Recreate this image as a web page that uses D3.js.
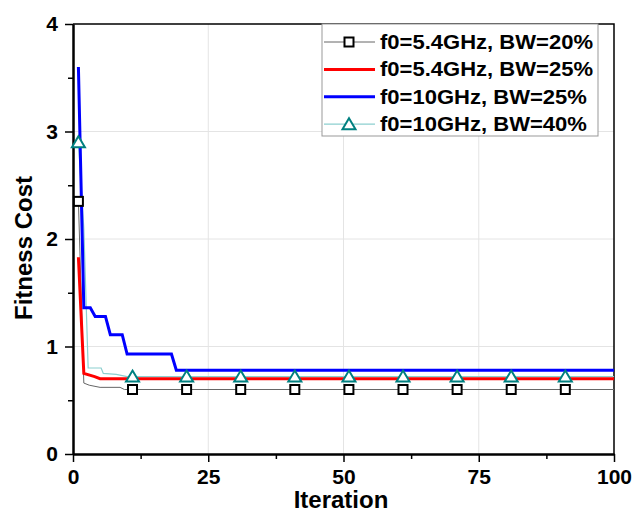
<!DOCTYPE html>
<html>
<head>
<meta charset="utf-8">
<script src="https://cdn.jsdelivr.net/npm/d3@7"></script>
<style>
  body { margin: 0; background: #fff; }
  svg text { font-family: "Liberation Sans", Arial, sans-serif; font-weight: bold; }
</style>
</head>
<body>
<div id="chart"></div>
<script>
// Series breakpoints (iteration, fitness cost)
const bw20_54 = [[1, 2.35], [2, 0.66], [3, 0.64], [5, 0.62], [8.7, 0.62], [9.5, 0.6], [100, 0.6]];
const bw25_54 = [[1, 1.83], [2, 0.75], [4, 0.72], [5, 0.70], [100, 0.70]];
const bw25_10 = [[1, 3.6], [2, 1.36], [3.2, 1.36], [4.1, 1.28], [6, 1.28], [6.9, 1.11], [9.1, 1.11], [10, 0.93],
                 [18.2, 0.93], [19.1, 0.78], [100, 0.78]];
const bw40_10 = [[1, 2.9], [2, 2.1], [2.8, 0.8], [5.2, 0.8], [5.6, 0.75], [8, 0.74], [10, 0.72], [100, 0.72]];

// Marker positions
const markerIters = [1, 11, 21, 31, 41, 51, 61, 71, 81, 91];
const squareVals = [2.35, 0.6, 0.6, 0.6, 0.6, 0.6, 0.6, 0.6, 0.6, 0.6];
const triangleVals = [2.9, 0.72, 0.72, 0.72, 0.72, 0.72, 0.72, 0.72, 0.72, 0.72];

const legendLabels = ["f0=5.4GHz, BW=20%", "f0=5.4GHz, BW=25%", "f0=10GHz, BW=25%", "f0=10GHz, BW=40%"];
const xTicks = [0, 25, 50, 75, 100];
const xMinor = [12.5, 37.5, 62.5, 87.5];
const yTicks = [0, 1, 2, 3, 4];
const yMinor = [0.5, 1.5, 2.5, 3.5];

(function() {
  const W = 635, H = 512;
  const pl = 73, pr = 614, pt = 24, pb = 454;

  const svg = d3.select("#chart").append("svg")
    .attr("width", W).attr("height", H);

  const x = d3.scaleLinear().domain([0, 100]).range([pl, pr]);
  const y = d3.scaleLinear().domain([0, 4]).range([pb, pt]);

  // grid
  svg.append("g").selectAll("line")
    .data(xTicks.slice(1, -1)).join("line")
    .attr("x1", d => x(d)).attr("x2", d => x(d))
    .attr("y1", pt).attr("y2", pb)
    .attr("stroke", "#e4e4e4").attr("stroke-width", 1);
  svg.append("g").selectAll("line")
    .data(yTicks.slice(1, -1)).join("line")
    .attr("x1", pl).attr("x2", pr)
    .attr("y1", d => y(d)).attr("y2", d => y(d))
    .attr("stroke", "#e4e4e4").attr("stroke-width", 1);

  // frame top / right
  svg.append("path")
    .attr("d", `M${pl},${pt}H${pr}V${pb}`)
    .attr("fill", "none").attr("stroke", "#000").attr("stroke-width", 1.5);

  // axes
  const xAxisG = svg.append("g").attr("transform", `translate(0,${pb})`);
  xAxisG.call(d3.axisBottom(x).tickValues(xTicks).tickFormat(d3.format("d"))
    .tickSize(8).tickPadding(7).tickSizeOuter(0));
  xAxisG.append("g").call(d3.axisBottom(x).tickValues(xMinor).tickSize(5).tickFormat("").tickSizeOuter(0));

  const yAxisG = svg.append("g").attr("transform", `translate(${pl},0)`);
  yAxisG.call(d3.axisLeft(y).tickValues(yTicks).tickFormat(d3.format("d"))
    .tickSize(8).tickPadding(7).tickSizeOuter(0));
  yAxisG.append("g").call(d3.axisLeft(y).tickValues(yMinor).tickSize(5).tickFormat("").tickSizeOuter(0));

  svg.selectAll(".domain").attr("stroke", "#000").attr("stroke-width", 2);
  svg.selectAll(".tick line").attr("stroke", "#000").attr("stroke-width", 1.5);
  svg.selectAll(".tick text").attr("font-size", 21).attr("fill", "#000")
    .style("font-family", "'Liberation Sans', Arial, sans-serif").style("font-weight", "bold");

  // axis titles
  svg.append("text")
    .attr("transform", "translate(32,248) rotate(-90)")
    .attr("text-anchor", "middle").attr("font-size", 24).text("Fitness Cost");
  svg.append("text")
    .attr("x", 341).attr("y", 508)
    .attr("text-anchor", "middle").attr("font-size", 24).text("Iteration");

  // lines
  const line = d3.line().x(d => x(d[0])).y(d => y(d[1]));
  svg.append("path").datum(bw20_54).attr("d", line)
    .attr("fill", "none").attr("stroke", "#666").attr("stroke-width", 1);
  svg.append("path").datum(bw40_10).attr("d", line)
    .attr("fill", "none").attr("stroke", "#8ccfcf").attr("stroke-width", 1.2);
  svg.append("path").datum(bw25_54).attr("d", line)
    .attr("fill", "none").attr("stroke", "#ff0000").attr("stroke-width", 3);
  svg.append("path").datum(bw25_10).attr("d", line)
    .attr("fill", "none").attr("stroke", "#0000ff").attr("stroke-width", 3);

  // markers
  const sq = 9;
  const triPath = "M0,-6L6.5,5L-6.5,5Z";
  svg.append("g").selectAll("rect")
    .data(markerIters.map((it, i) => [it, squareVals[i]])).join("rect")
    .attr("x", d => x(d[0]) - sq / 2).attr("y", d => y(d[1]) - sq / 2)
    .attr("width", sq).attr("height", sq)
    .attr("fill", "#fff").attr("stroke", "#000").attr("stroke-width", 2);
  svg.append("g").selectAll("path")
    .data(markerIters.map((it, i) => [it, triangleVals[i]])).join("path")
    .attr("transform", d => `translate(${x(d[0])},${y(d[1])})`)
    .attr("d", triPath)
    .attr("fill", "#fff").attr("stroke", "#008080").attr("stroke-width", 2);

  // legend
  const lg = svg.append("g");
  lg.append("rect")
    .attr("x", 322).attr("y", 24).attr("width", 276).attr("height", 112)
    .attr("fill", "#fff").attr("stroke", "#999").attr("stroke-width", 1);
  const legendStyles = [
    { color: "#666", width: 1, marker: "square" },
    { color: "#ff0000", width: 3, marker: null },
    { color: "#0000ff", width: 3, marker: null },
    { color: "#8ccfcf", width: 1.2, marker: "triangle" }
  ];
  legendLabels.forEach((label, i) => {
    const cy = 42 + i * 27.4;
    const s = legendStyles[i];
    lg.append("line")
      .attr("x1", 324).attr("x2", 375).attr("y1", cy).attr("y2", cy)
      .attr("stroke", s.color).attr("stroke-width", s.width);
    if (s.marker === "square") {
      lg.append("rect")
        .attr("x", 349 - 4.5).attr("y", cy - 4.5).attr("width", 9).attr("height", 9)
        .attr("fill", "#fff").attr("stroke", "#000").attr("stroke-width", 2);
    } else if (s.marker === "triangle") {
      lg.append("path")
        .attr("transform", `translate(349,${cy})`).attr("d", triPath)
        .attr("fill", "#fff").attr("stroke", "#008080").attr("stroke-width", 2);
    }
    lg.append("text")
      .attr("transform", `translate(380,${cy + 7}) scale(1.13,1)`)
      .attr("font-size", 19.5).attr("fill", "#000").text(label);
  });
})();
</script>
</body>
</html>
